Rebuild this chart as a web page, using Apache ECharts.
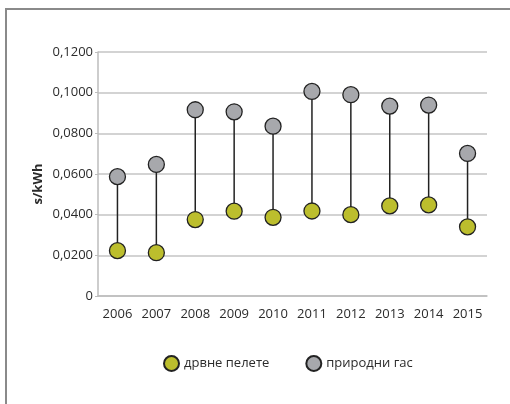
<!DOCTYPE html>
<html>
<head>
<meta charset="utf-8">
<script src="https://cdn.jsdelivr.net/npm/echarts@6/dist/echarts.min.js"></script>
<style>
  html, body { margin: 0; padding: 0; background: #fff; }
  #chart { width: 510px; height: 404px; }
</style>
</head>
<body>
<div id="chart"></div>
<script>
// Years on the category axis
const years = ['2006', '2007', '2008', '2009', '2010', '2011', '2012', '2013', '2014', '2015'];
// Price per kWh, wood pellets
const pellets = [0.0223, 0.0213, 0.0376, 0.0417, 0.0387, 0.0418, 0.0400, 0.0443, 0.0448, 0.0340];
// Price per kWh, natural gas
const naturalGas = [0.0587, 0.0647, 0.0916, 0.0906, 0.0835, 0.1006, 0.0990, 0.0934, 0.0939, 0.0701];
// Y axis scale
const yMin = 0, yMax = 0.12, yStep = 0.02;

const pelletName = 'дрвне пелете';
const gasName = 'природни гас';
const unitLabel = 's/kWh';

const textColor = '#2b2b2b';
const fontFamily = '"Open Sans", "Noto Sans", sans-serif';

const chart = echarts.init(document.getElementById('chart'));

chart.setOption({
  animation: false,
  textStyle: { fontFamily: fontFamily },
  graphic: [
    {
      // outer frame (top and left edges)
      type: 'polyline',
      shape: { points: [[6, 420], [6, 9], [520, 9]] },
      style: { stroke: '#8a8a8a', lineWidth: 2, fill: null },
      silent: true
    },
    {
      // unit label along the value axis
      type: 'text',
      x: 38,
      y: 184,
      rotation: Math.PI / 2,
      style: {
        text: unitLabel,
        fill: textColor,
        font: 'bold 13px ' + fontFamily,
        textAlign: 'center',
        textVerticalAlign: 'middle'
      },
      silent: true
    }
  ],
  grid: { left: 98, right: 23, top: 52, bottom: 108 },
  legend: {
    top: 350,
    left: 158,
    itemGap: 36,
    itemWidth: 15,
    itemHeight: 15,
    textStyle: { color: textColor, fontSize: 13, fontFamily: fontFamily },
    data: [
      { name: pelletName, icon: 'circle' },
      { name: gasName, icon: 'circle' }
    ]
  },
  xAxis: {
    type: 'category',
    data: years,
    boundaryGap: true,
    axisLine: { show: true, lineStyle: { color: '#bdbdbd', width: 1.5 } },
    axisTick: { show: false },
    axisLabel: { color: textColor, fontSize: 13, margin: 12 },
    splitLine: { show: false }
  },
  yAxis: {
    type: 'value',
    min: yMin,
    max: yMax,
    interval: yStep,
    axisLine: { show: true, lineStyle: { color: '#bdbdbd', width: 1.5 } },
    axisTick: { show: true, length: 3, lineStyle: { color: '#bdbdbd' } },
    axisLabel: {
      color: textColor,
      fontSize: 13,
      margin: 5,
      formatter: v => v === 0 ? '0' : v.toFixed(4).replace('.', ',')
    },
    splitLine: { show: true, lineStyle: { color: '#c4c4c4', width: 1.5 } }
  },
  series: [
    {
      // vertical connectors between the two prices of each year
      type: 'custom',
      name: 'range',
      silent: true,
      z: 1,
      data: years.map((y, i) => [i, pellets[i], naturalGas[i]]),
      renderItem: (params, api) => {
        const a = api.coord([api.value(0), api.value(1)]);
        const b = api.coord([api.value(0), api.value(2)]);
        return {
          type: 'line',
          shape: { x1: a[0], y1: a[1], x2: b[0], y2: b[1] },
          style: { stroke: '#222', lineWidth: 1.5 }
        };
      }
    },
    {
      type: 'scatter',
      name: pelletName,
      z: 3,
      symbol: 'circle',
      symbolSize: 16,
      data: pellets,
      itemStyle: { color: '#bcbe2d', borderColor: '#222', borderWidth: 1.3, opacity: 1 }
    },
    {
      type: 'scatter',
      name: gasName,
      z: 3,
      symbol: 'circle',
      symbolSize: 16,
      data: naturalGas,
      itemStyle: { color: '#a7a8ac', borderColor: '#222', borderWidth: 1.3, opacity: 1 }
    }
  ]
});
</script>
</body>
</html>
